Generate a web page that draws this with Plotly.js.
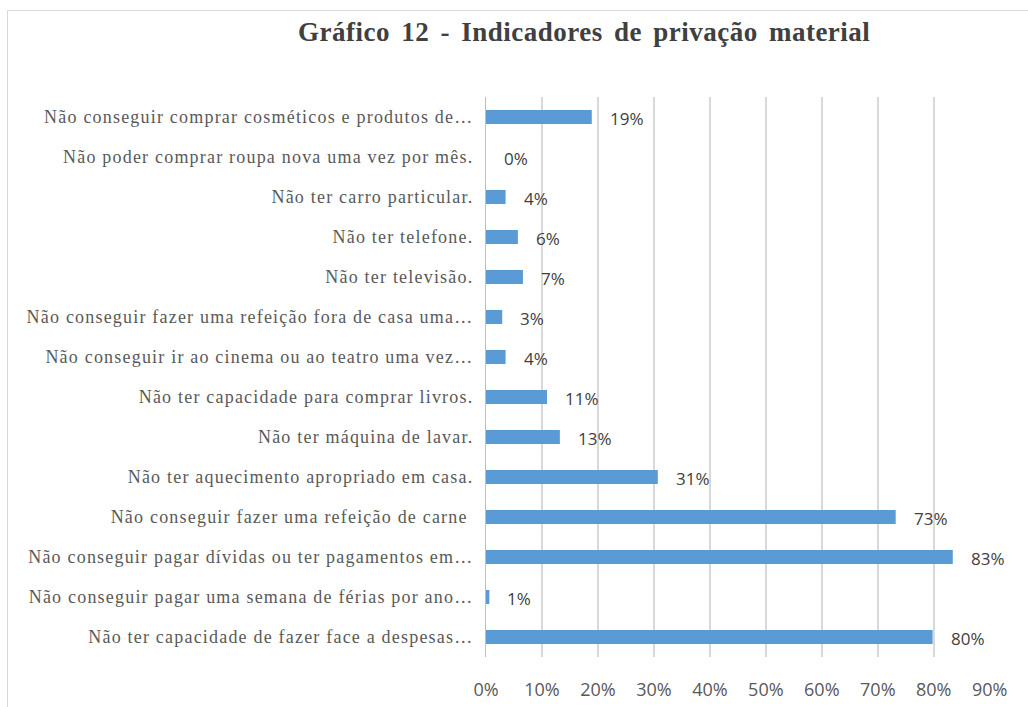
<!DOCTYPE html>
<html>
<head>
<meta charset="utf-8">
<script src="https://cdn.plot.ly/plotly-3.0.1.min.js"></script>
<style>
html, body { margin: 0; padding: 0; background: #fff; overflow: hidden; width: 1028px; height: 707px; }
#chart { position: absolute; left: 7px; top: 10px; width: 1040px; height: 720px; border: 1px solid #d9d9d9; }
#chart .ytick text { letter-spacing: 1.2px; }
#chart .gtitle { letter-spacing: 0.5px; word-spacing: 4px; }
</style>
</head>
<body>
<div id="chart"></div>
<script>
const categories = [
  "Não conseguir comprar cosméticos e produtos de…",
  "Não poder comprar roupa nova uma vez por mês.",
  "Não ter carro particular.",
  "Não ter telefone.",
  "Não ter televisão.",
  "Não conseguir fazer uma refeição fora de casa uma…",
  "Não conseguir ir ao cinema ou ao teatro uma vez…",
  "Não ter capacidade para comprar livros.",
  "Não ter máquina de lavar.",
  "Não ter aquecimento apropriado em casa.",
  "Não conseguir fazer uma refeição de carne ",
  "Não conseguir pagar dívidas ou ter pagamentos em…",
  "Não conseguir pagar uma semana de férias por ano…",
  "Não ter capacidade de fazer face a despesas…"
];
const values = [18.9, 0, 3.5, 5.7, 6.6, 2.9, 3.5, 10.9, 13.2, 30.7, 73.2, 83.4, 0.6, 79.8];
const labels = ["19%", "0%", "4%", "6%", "7%", "3%", "4%", "11%", "13%", "31%", "73%", "83%", "1%", "80%"];
const xTicks = [0, 10, 20, 30, 40, 50, 60, 70, 80, 90];

const trace = {
  type: 'bar',
  orientation: 'h',
  y: categories,
  x: values,
  marker: { color: '#5b9bd5' },
  hoverinfo: 'none'
};

const annotations = values.map((v, i) => ({
  x: v, y: categories[i], xref: 'x', yref: 'y',
  text: labels[i], showarrow: false,
  xanchor: 'left', yanchor: 'middle', xshift: 16, yshift: -1,
  font: { family: 'Open Sans, sans-serif', size: 17, color: '#404040' }
}));

const layout = {
  width: 1040, height: 720,
  margin: { l: 478, r: 58, t: 86, b: 74 },
  paper_bgcolor: '#fff', plot_bgcolor: '#fff',
  showlegend: false,
  bargap: 0.65,
  title: {
    text: '<b>Gráfico 12 - Indicadores de privação material</b>',
    font: { family: 'Liberation Serif, Times New Roman, serif', size: 27, color: '#404040' },
    xref: 'container', yref: 'container', x: 0.554, xanchor: 'center', y: 0.971, yanchor: 'middle'
  },
  xaxis: {
    range: [0, 90.05],
    tickvals: xTicks,
    ticktext: xTicks.map(t => t + '%'),
    showgrid: true, gridcolor: '#d9d9d9', gridwidth: 1.5,
    zeroline: false, showline: false, ticks: '',
    ticklabelstandoff: 20,
    tickfont: { family: 'Open Sans, sans-serif', size: 18, color: '#595959' },
    fixedrange: true
  },
  yaxis: {
    autorange: 'reversed',
    showgrid: false, zeroline: false,
    showline: true, linecolor: '#bfbfbf', linewidth: 1,
    ticks: '', ticklabelstandoff: 8,
    tickfont: { family: 'Liberation Serif, Times New Roman, serif', size: 18, color: '#595959' },
    fixedrange: true
  },
  annotations: annotations
};

Plotly.newPlot('chart', [trace], layout, { displayModeBar: false, staticPlot: true });
</script>
</body>
</html>
